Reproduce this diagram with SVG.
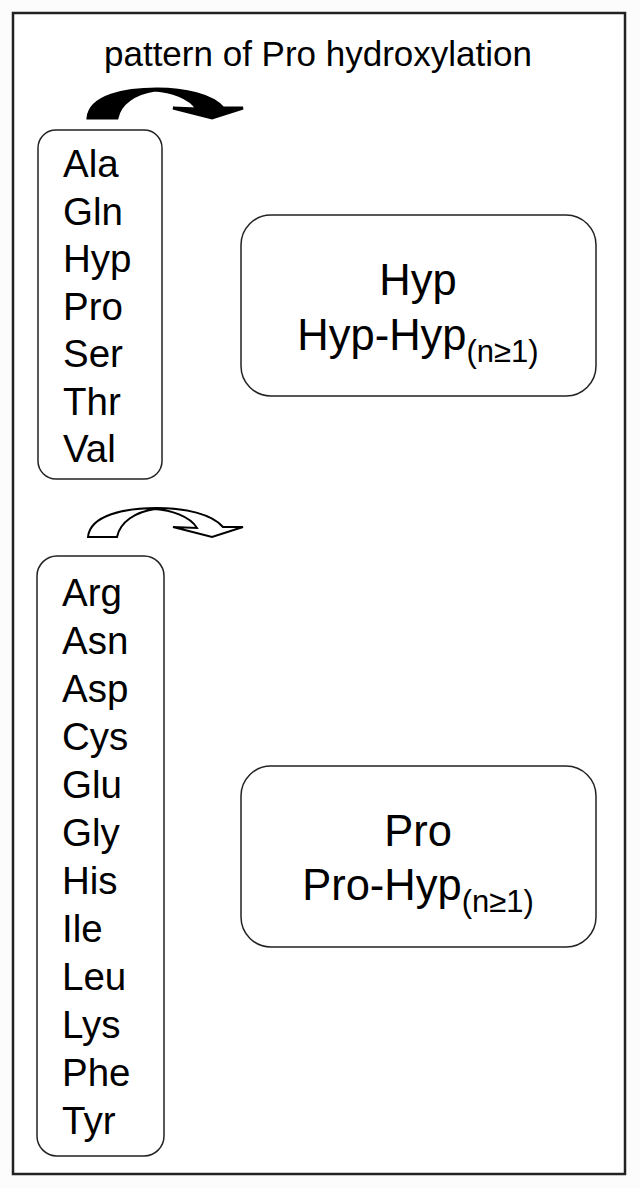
<svg xmlns="http://www.w3.org/2000/svg" width="640" height="1188" viewBox="0 0 640 1188">
<defs>
<style>
.t{font-family:"Liberation Sans",Arial,sans-serif;fill:#000}
.box{fill:#fff;stroke:#222;stroke-width:1.5}
.lst{font-size:38.5px}
.big{font-size:43.5px}
.sub{font-size:31px}
</style>
<path id="arr" d="M88,537 C90,515 125,508 157,508 C185,508 212,514 223,527 L243,527 L212,537 L173,527 L197,528 C190,516 170,510 155,509 C135,512 120,522 117,537 Z"/>
</defs>
<rect x="0" y="0" width="640" height="1188" fill="#fcfcfc"/>
<rect x="13" y="13" width="612" height="1161" fill="#fff" stroke="#222" stroke-width="2.5"/>
<text class="t" x="318" y="66" font-size="35" text-anchor="middle">pattern of Pro hydroxylation</text>
<g id="connectors">
<use href="#arr" transform="translate(0,-419)" fill="#000" stroke="#000" stroke-width="3"/>
<use href="#arr" fill="#fff" stroke="#000" stroke-width="2"/>
</g>
<g id="list1">
<rect class="box" x="38" y="130" width="124" height="349" rx="18"/>
<text class="t lst" x="63" y="177">Ala</text>
<text class="t lst" x="63" y="224.5">Gln</text>
<text class="t lst" x="63" y="272">Hyp</text>
<text class="t lst" x="63" y="319.5">Pro</text>
<text class="t lst" x="63" y="367">Ser</text>
<text class="t lst" x="63" y="414.5">Thr</text>
<text class="t lst" x="63" y="462">Val</text>
</g>
<g id="hypbox">
<rect class="box" x="241" y="215" width="355" height="181" rx="30"/>
<text class="t big" x="418" y="295" text-anchor="middle">Hyp</text>
<text class="t big" x="418" y="350" text-anchor="middle">Hyp-Hyp<tspan class="sub" dy="12">(n≥1)</tspan></text>
</g>
<g id="list2">
<rect class="box" x="37" y="556" width="127" height="600" rx="20"/>
<text class="t lst" x="62" y="606">Arg</text>
<text class="t lst" x="62" y="654">Asn</text>
<text class="t lst" x="62" y="702">Asp</text>
<text class="t lst" x="62" y="750">Cys</text>
<text class="t lst" x="62" y="798">Glu</text>
<text class="t lst" x="62" y="846">Gly</text>
<text class="t lst" x="62" y="894">His</text>
<text class="t lst" x="62" y="942">Ile</text>
<text class="t lst" x="62" y="990">Leu</text>
<text class="t lst" x="62" y="1038">Lys</text>
<text class="t lst" x="62" y="1086">Phe</text>
<text class="t lst" x="62" y="1134">Tyr</text>
</g>
<g id="probox">
<rect class="box" x="241" y="766" width="355" height="181" rx="30"/>
<text class="t big" x="418" y="846" text-anchor="middle">Pro</text>
<text class="t big" x="418" y="900" text-anchor="middle">Pro-Hyp<tspan class="sub" dy="12">(n≥1)</tspan></text>
</g>
</svg>
